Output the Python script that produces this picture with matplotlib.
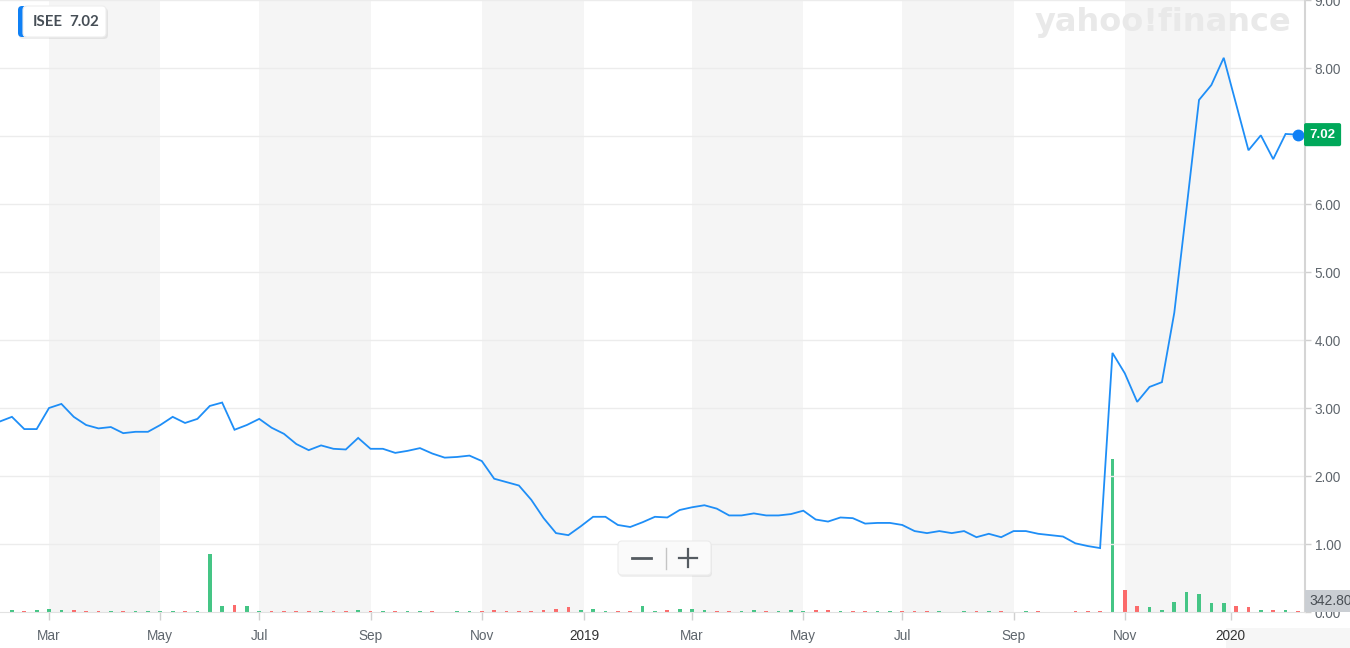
import matplotlib
matplotlib.use("Agg")
import matplotlib.pyplot as plt
from matplotlib.patches import FancyBboxPatch
from matplotlib.lines import Line2D
from matplotlib.transforms import IdentityTransform, blended_transform_factory
import pandas as pd

# ---------------- data (weekly) ----------------
ticker = "ISEE"
first_week = "2018-02-05"
prices = [2.80, 2.87, 2.69, 2.69, 3.00, 3.06, 2.87, 2.75, 2.70, 2.72,
          2.63, 2.65, 2.65, 2.75, 2.87, 2.78, 2.84, 3.03, 3.08, 2.68,
          2.75, 2.84, 2.71, 2.62, 2.47, 2.38, 2.45, 2.40, 2.39, 2.56,
          2.40, 2.40, 2.34, 2.37, 2.41, 2.33, 2.27, 2.28, 2.30, 2.22,
          1.96, 1.91, 1.86, 1.65, 1.38, 1.16, 1.13, 1.26, 1.40, 1.40,
          1.28, 1.25, 1.32, 1.40, 1.39, 1.50, 1.54, 1.57, 1.52, 1.42,
          1.42, 1.45, 1.42, 1.42, 1.44, 1.49, 1.36, 1.33, 1.39, 1.38,
          1.30, 1.31, 1.31, 1.28, 1.19, 1.16, 1.19, 1.16, 1.19, 1.10,
          1.15, 1.10, 1.19, 1.19, 1.15, 1.13, 1.11, 1.01, 0.97, 0.94,
          3.81, 3.51, 3.09, 3.31, 3.38, 4.40, 5.95, 7.53, 7.75, 8.15,
          7.47, 6.79, 7.01, 6.66, 7.03, 7.02]
# volume in thousands of shares
volumes_k = [170, 680, 340, 680, 1190, 680, 680, 340, 340, 340,
             340, 340, 340, 340, 340, 340, 340, 19720, 2040, 2380,
             2040, 340, 340, 340, 340, 340, 340, 340, 340, 680,
             340, 340, 340, 340, 340, 340, 170, 340, 340, 340,
             680, 340, 340, 340, 680, 1190, 1700, 680, 1020, 340,
             340, 340, 2040, 340, 680, 1020, 1020, 680, 340, 340,
             340, 680, 340, 340, 680, 340, 680, 680, 340, 340,
             340, 340, 340, 340, 340, 340, 340, 170, 340, 340,
             340, 340, 170, 340, 340, 170, 170, 340, 340, 340,
             52020, 7480, 2040, 1700, 680, 3400, 6800, 6120, 3060, 3060,
             2040, 1700, 680, 680, 680, 342.8]
tick_dates = ["2018-03-05", "2018-05-07", "2018-07-02", "2018-09-03", "2018-11-05",
              "2019-01-02", "2019-03-04", "2019-05-06", "2019-07-01", "2019-09-02",
              "2019-11-04", "2020-01-03"]
tick_labels = ["Mar", "May", "Jul", "Sep", "Nov", "2019",
               "Mar", "May", "Jul", "Sep", "Nov", "2020"]
price_ticks = [0, 1, 2, 3, 4, 5, 6, 7, 8, 9]
last_volume_label = "342.80K"

dates = pd.date_range(first_week, periods=len(prices), freq="7D")
tdates = pd.to_datetime(tick_dates)

# ---------------- figure ----------------
W, H = 1350, 648
fig = plt.figure(figsize=(W / 100, H / 100), dpi=100)
rect = [0, 36 / H, 1305 / W, 612 / H]

BAND = "#f5f5f5"
GRID = "#ececec"
LINE = "#1e8ef7"
GREEN = "#45c585"
RED = "#fb6b6b"
TXT = "#5f666d"

# background layer: bands + volume
ax_v = fig.add_axes(rect)
xmin = pd.Timestamp("2018-02-05 06:00")
xmax = pd.Timestamp("2020-02-14")
ax_v.set_xlim(xmin, xmax)
for k in range(0, len(tdates), 2):
    ax_v.axvspan(tdates[k], tdates[k + 1], color=BAND, lw=0, zorder=0)
colors = [GREEN] + [GREEN if prices[i] >= prices[i - 1] else RED for i in range(1, len(prices))]
ax_v.bar(dates, volumes_k, width=2.1, color=colors, lw=0, zorder=2)
ax_v.set_ylim(0, max(volumes_k) * 612 / 153)
ax_v.axis("off")

# price layer
ax = fig.add_axes(rect, sharex=ax_v)
ax.patch.set_visible(False)
ax.set_ylim(0, 9.0)
for v in price_ticks[1:]:
    ax.axhline(v, color=GRID, lw=1, zorder=1)
ax.plot(dates, prices, color=LINE, lw=1.3, zorder=3, solid_joinstyle="miter")
ax.plot(dates[-1], prices[-1], "o", color="#0f80f5", ms=7.5, zorder=4)

ax.yaxis.tick_right()
ax.set_yticks(price_ticks)
ax.set_yticklabels([f"{v:.2f}" for v in price_ticks])
ax.tick_params(axis="y", length=4, width=1, color="#d0d0d0", pad=3,
               labelsize=9.8, labelcolor=TXT)
ax.set_xticks(tdates)
ax.set_xticklabels(tick_labels)
ax.tick_params(axis="x", length=6, width=1, color="#d0d0d0", pad=6,
               labelsize=9.8, labelcolor=TXT)
for lab in ax.get_xticklabels():
    lab.set_fontfamily("Liberation Sans")
    if lab.get_text() in ("2019", "2020"):
        lab.set_color("#333333")
for lab in ax.get_yticklabels():
    lab.set_fontfamily("Liberation Sans")
for s in ("top", "left"):
    ax.spines[s].set_visible(False)
ax.spines["right"].set_color("#d5d5d5")
ax.spines["right"].set_linewidth(1.5)
ax.spines["bottom"].set_color("#e2e2e2")

# last price label (covers the 7.00 tick label as in the reference)
tr = blended_transform_factory(ax.transAxes, ax.transData)
ax.text(1.0035, prices[-1], f"{prices[-1]:.2f}", transform=tr, ha="left", va="center",
        color="white", fontsize=9.5, fontweight="bold", family="Liberation Sans",
        bbox=dict(boxstyle="round,pad=0.42,rounding_size=0.15", fc="#00a85a", ec="none"),
        zorder=10, clip_on=False)

# volume label box
fig.text(1309 / W, 1 - 601 / H, last_volume_label, ha="left", va="center",
         color="#4a4f55", fontsize=10, family="Liberation Sans",
         bbox=dict(boxstyle="square,pad=0.32", fc="#caced3", ec="none"))

ID = IdentityTransform()


def pbox(x0, y0, x1, y1, **kw):
    return FancyBboxPatch((x0, H - y1), x1 - x0, y1 - y0, transform=ID, **kw)


# bottom-right navigator strip
fig.add_artist(pbox(1226, 628, 1350, 648, boxstyle="square,pad=0", fc="#f6f6f6", ec="none", zorder=-1))

# ticker badge top-left
fig.add_artist(pbox(19, 8, 108, 39, boxstyle="round,pad=0,rounding_size=4", fc="#000000",
                    alpha=0.07, ec="none", zorder=5))
fig.add_artist(pbox(18, 6, 40, 37, boxstyle="round,pad=0,rounding_size=4", fc="#0f80f5",
                    ec="none", zorder=6))
fig.add_artist(pbox(23, 6, 106, 37, boxstyle="round,pad=0,rounding_size=4", fc="white",
                    ec="#eeeeee", lw=0.8, zorder=7))
fig.text(33 / W, 1 - 21.5 / H, ticker, ha="left", va="center", color="#464e56",
         fontsize=10.8, fontweight="bold", family="Lato", zorder=8)
fig.text(69.5 / W, 1 - 21.5 / H, f"{prices[-1]:.2f}", ha="left", va="center", color="#464e56",
         fontsize=10.8, fontweight="bold", family="Lato", zorder=8)

# watermark
fig.text(1163 / W, 1 - 22 / H, "yahoo!finance", ha="center", va="center", color="#e9e9e9",
         fontsize=23, fontweight="bold", family="DejaVu Sans", zorder=2)

# zoom control
fig.add_artist(pbox(619, 543, 712, 577, boxstyle="round,pad=0,rounding_size=4", fc="#000000",
                    alpha=0.06, ec="none", zorder=5))
fig.add_artist(pbox(618, 541, 711, 575, boxstyle="round,pad=0,rounding_size=4", fc="#fafafa",
                    ec="#ececec", lw=0.8, zorder=6))
fig.add_artist(Line2D([632, 651], [H - 558, H - 558], transform=ID, color="#555b61", lw=2, zorder=7))
fig.add_artist(Line2D([666, 666], [H - 548, H - 569], transform=ID, color="#c4c4c4", lw=1, zorder=7))
fig.add_artist(Line2D([679, 697], [H - 558, H - 558], transform=ID, color="#555b61", lw=1.6, zorder=7))
fig.add_artist(Line2D([688, 688], [H - 549, H - 567], transform=ID, color="#555b61", lw=1.6, zorder=7))

fig.savefig("out.png", dpi=100)
